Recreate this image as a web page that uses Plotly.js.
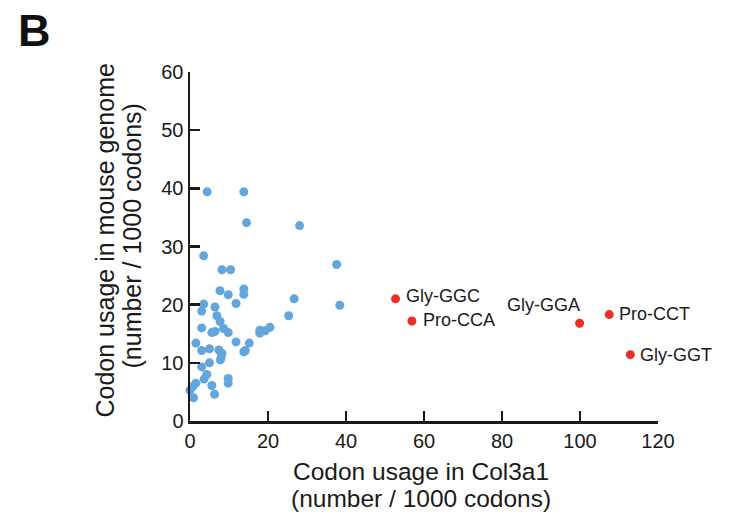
<!DOCTYPE html>
<html>
<head>
<meta charset="utf-8">
<script src="https://cdn.plot.ly/plotly-3.0.1.min.js"></script>
<style>html,body{margin:0;padding:0;background:#fff;}#chart{width:733px;height:518px;}</style>
</head>
<body>
<div id="chart"></div>
<script>
// Other codons (blue)
const otherX = [4.4, 13.8, 14.5, 28.1, 3.5, 8.2, 10.4, 37.6, 7.7, 9.8, 13.8, 13.8, 26.7, 38.4, 3.5, 3.0, 6.4, 11.8, 25.3, 6.9, 7.7, 8.6, 9.8, 3.0, 5.6, 6.4, 17.9, 17.9, 19.3, 20.5, 1.5, 11.8, 15.2, 14.2, 13.8, 3.0, 5.0, 7.4, 8.2, 8.0, 7.8, 5.0, 3.0, 4.3, 3.6, 9.8, 9.8, 1.5, 0.7, 0.0, 5.6, 6.3, 0.9];
const otherY = [39.4, 39.4, 34.1, 33.6, 28.4, 26.0, 26.0, 26.9, 22.4, 21.7, 22.7, 21.8, 21.0, 19.9, 20.1, 18.9, 19.6, 20.2, 18.1, 18.1, 17.1, 15.9, 15.2, 16.0, 15.2, 15.4, 15.6, 15.1, 15.5, 16.1, 13.4, 13.6, 13.4, 12.1, 11.9, 12.1, 12.4, 12.2, 11.6, 11.0, 10.5, 10.0, 9.3, 8.0, 7.2, 7.3, 6.5, 6.5, 5.9, 5.3, 6.1, 4.6, 4.0];
// Highlighted codons (red)
const hiLabels = ["Gly-GGC", "Pro-CCA", "Gly-GGA", "Pro-CCT", "Gly-GGT"];
const hiX = [52.7, 56.9, 99.9, 107.5, 112.9];
const hiY = [21.0, 17.2, 16.8, 18.3, 11.4];
const xTicks = [0, 20, 40, 60, 80, 100, 120];
const yTicks = [0, 10, 20, 30, 40, 50, 60];

// label placement (style)
const labelOffsets = [
  {anchor: "left", dx: 8, dy: 3},
  {anchor: "left", dx: 9, dy: 1},
  {anchor: "right", dx: 2, dy: 18},
  {anchor: "left", dx: 8, dy: 1},
  {anchor: "left", dx: 8, dy: 0}
];

const FONT = "Liberation Sans, Arial, Helvetica, sans-serif";
const BLUE = "rgb(98,166,222)";
const RED = "rgb(234,48,38)";

const traces = [
  {x: otherX, y: otherY, type: "scatter", mode: "markers",
   marker: {color: BLUE, size: 9}, cliponaxis: false, hoverinfo: "x+y"},
  {x: hiX, y: hiY, type: "scatter", mode: "markers",
   marker: {color: RED, size: 9}, cliponaxis: false, text: hiLabels}
];

const annotations = hiLabels.map((t, i) => ({
  x: hiX[i], y: hiY[i], xref: "x", yref: "y", text: t, showarrow: false,
  xanchor: labelOffsets[i].anchor, yanchor: "middle",
  xshift: labelOffsets[i].dx, yshift: labelOffsets[i].dy,
  font: {family: FONT, size: 18, color: "#1a1a1a"}
}));

// axis titles (two lines each) and panel letter
annotations.push(
  {xref: "paper", yref: "paper", x: 0.5, y: 0, xshift: -3, yshift: -50, xanchor: "center", yanchor: "middle",
   text: "Codon usage in Col3a1", showarrow: false, font: {family: FONT, size: 24.5, color: "#1a1a1a"}},
  {xref: "paper", yref: "paper", x: 0.5, y: 0, xshift: -3, yshift: -77, xanchor: "center", yanchor: "middle",
   text: "(number / 1000 codons)", showarrow: false, font: {family: FONT, size: 24.5, color: "#1a1a1a"}},
  {xref: "paper", yref: "paper", x: 0, y: 0.5, xshift: -86, yshift: 6, xanchor: "center", yanchor: "middle",
   textangle: -90, text: "Codon usage in mouse genome", showarrow: false, font: {family: FONT, size: 25, color: "#1a1a1a"}},
  {xref: "paper", yref: "paper", x: 0, y: 0.5, xshift: -59, yshift: 10, xanchor: "center", yanchor: "middle",
   textangle: -90, text: "(number / 1000 codons)", showarrow: false, font: {family: FONT, size: 25, color: "#1a1a1a"}},
  {xref: "paper", yref: "paper", x: 0, y: 1, xshift: -156, yshift: 42, xanchor: "center", yanchor: "middle",
   text: "<b>B</b>", showarrow: false, font: {family: FONT, size: 45, color: "#111"}}
);

const axisCommon = {
  showgrid: false, zeroline: false, showline: true, linecolor: "#1a1a1a", linewidth: 2.5,
  ticks: "inside", ticklen: 10, tickwidth: 2.5, tickcolor: "#1a1a1a",
  tickfont: {family: FONT, size: 20, color: "#1a1a1a"}, fixedrange: true
};

const layout = {
  width: 733, height: 518,
  margin: {l: 190, r: 75, t: 72, b: 97, pad: 0},
  paper_bgcolor: "#fff", plot_bgcolor: "#fff",
  showlegend: false,
  xaxis: Object.assign({}, axisCommon, {range: [0, 120], tickvals: xTicks, ticktext: xTicks.map(String)}),
  yaxis: Object.assign({}, axisCommon, {range: [0, 60], tickvals: yTicks, ticktext: yTicks.map(String)}),
  annotations: annotations
};

Plotly.newPlot("chart", traces, layout, {displayModeBar: false, staticPlot: true});
</script>
</body>
</html>
